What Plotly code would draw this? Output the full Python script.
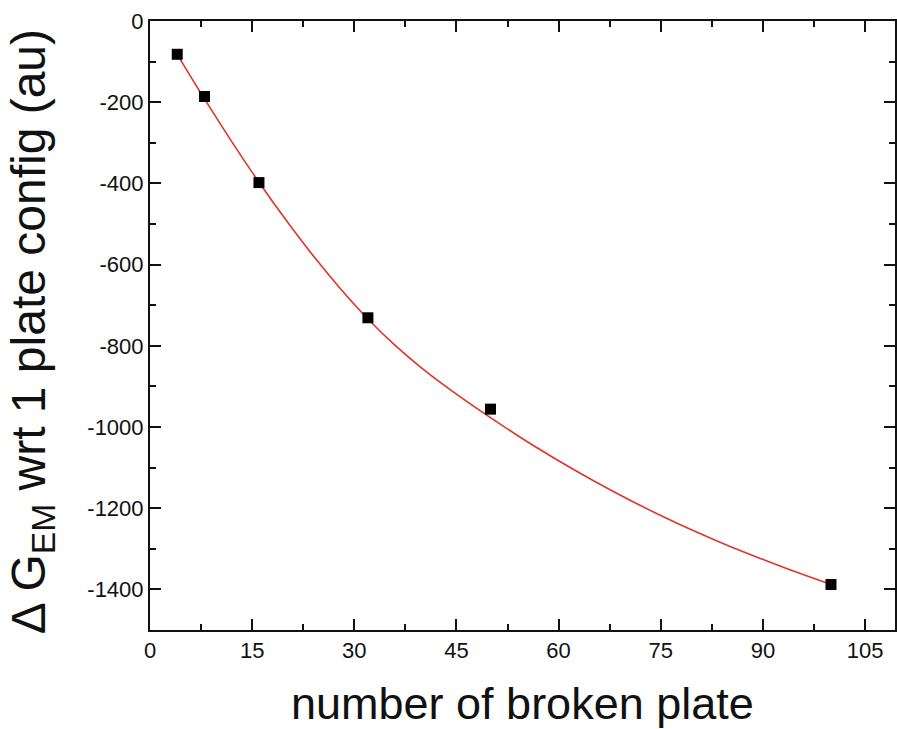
import plotly.graph_objects as go

# Computed energy change for each configuration
n_plates = [4, 8, 16, 32, 50, 100]
delta_g = [-82, -186, -398, -731, -956, -1388]

# Fitted decay curve sampled along the plate count
fit_x = [4, 8, 12, 16, 20, 24, 28, 32, 36, 40, 45, 50, 55, 60, 65, 70, 75, 80, 85, 90, 95, 100]
fit_y = [-82, -192, -297, -397, -491, -579, -660, -734, -799, -856, -919, -977,
         -1032, -1083, -1131, -1176, -1218, -1257, -1293, -1326, -1358, -1388]

x_ticks = [0, 15, 30, 45, 60, 75, 90, 105]
y_ticks = [0, -200, -400, -600, -800, -1000, -1200, -1400]

FONT = "Liberation Sans, Arial, sans-serif"

fig = go.Figure()
fig.add_trace(go.Scatter(
    x=fit_x, y=fit_y, mode="lines", line_shape="spline",
    line=dict(color="#e0342c", width=1.6), hoverinfo="skip",
))
fig.add_trace(go.Scatter(
    x=n_plates, y=delta_g, mode="markers",
    marker=dict(symbol="square", size=11, color="black"),
))

axis_common = dict(
    showgrid=False, zeroline=False, showline=True, linecolor="#111",
    linewidth=2, mirror="ticks", ticks="inside", ticklen=11, tickwidth=2,
    tickcolor="#111", tickfont=dict(family=FONT, size=22, color="#111"),
)

fig.update_xaxes(
    range=[0, 109.4], tickvals=x_ticks, ticktext=[str(v) for v in x_ticks],
    minor=dict(dtick=7.5, tick0=0, ticks="inside", ticklen=6, tickwidth=2, tickcolor="#111"),
    **axis_common,
)
fig.update_yaxes(
    range=[-1500, 0], tickvals=y_ticks, ticktext=[str(v) for v in y_ticks],
    minor=dict(dtick=100, tick0=0, ticks="inside", ticklen=6, tickwidth=2, tickcolor="#111"),
    **axis_common,
)

fig.add_annotation(
    text="number of broken plate", xref="paper", yref="paper",
    x=(524 - 150) / 747, y=(630 - 703) / 609, xanchor="center", yanchor="middle",
    showarrow=False, font=dict(family=FONT, size=45, color="#111"),
)
fig.add_annotation(
    text="\u0394 G<sub>EM</sub> wrt 1 plate config (au)", xref="paper", yref="paper",
    x=(32 - 150) / 747, y=(630 - 332) / 609, xanchor="center", yanchor="middle",
    textangle=-90, showarrow=False, font=dict(family=FONT, size=48, color="#111"),
)

fig.update_layout(
    width=897, height=729, showlegend=False,
    margin=dict(l=150, r=0, t=21, b=99),
    paper_bgcolor="white", plot_bgcolor="white",
)

fig.write_html("out.html")
